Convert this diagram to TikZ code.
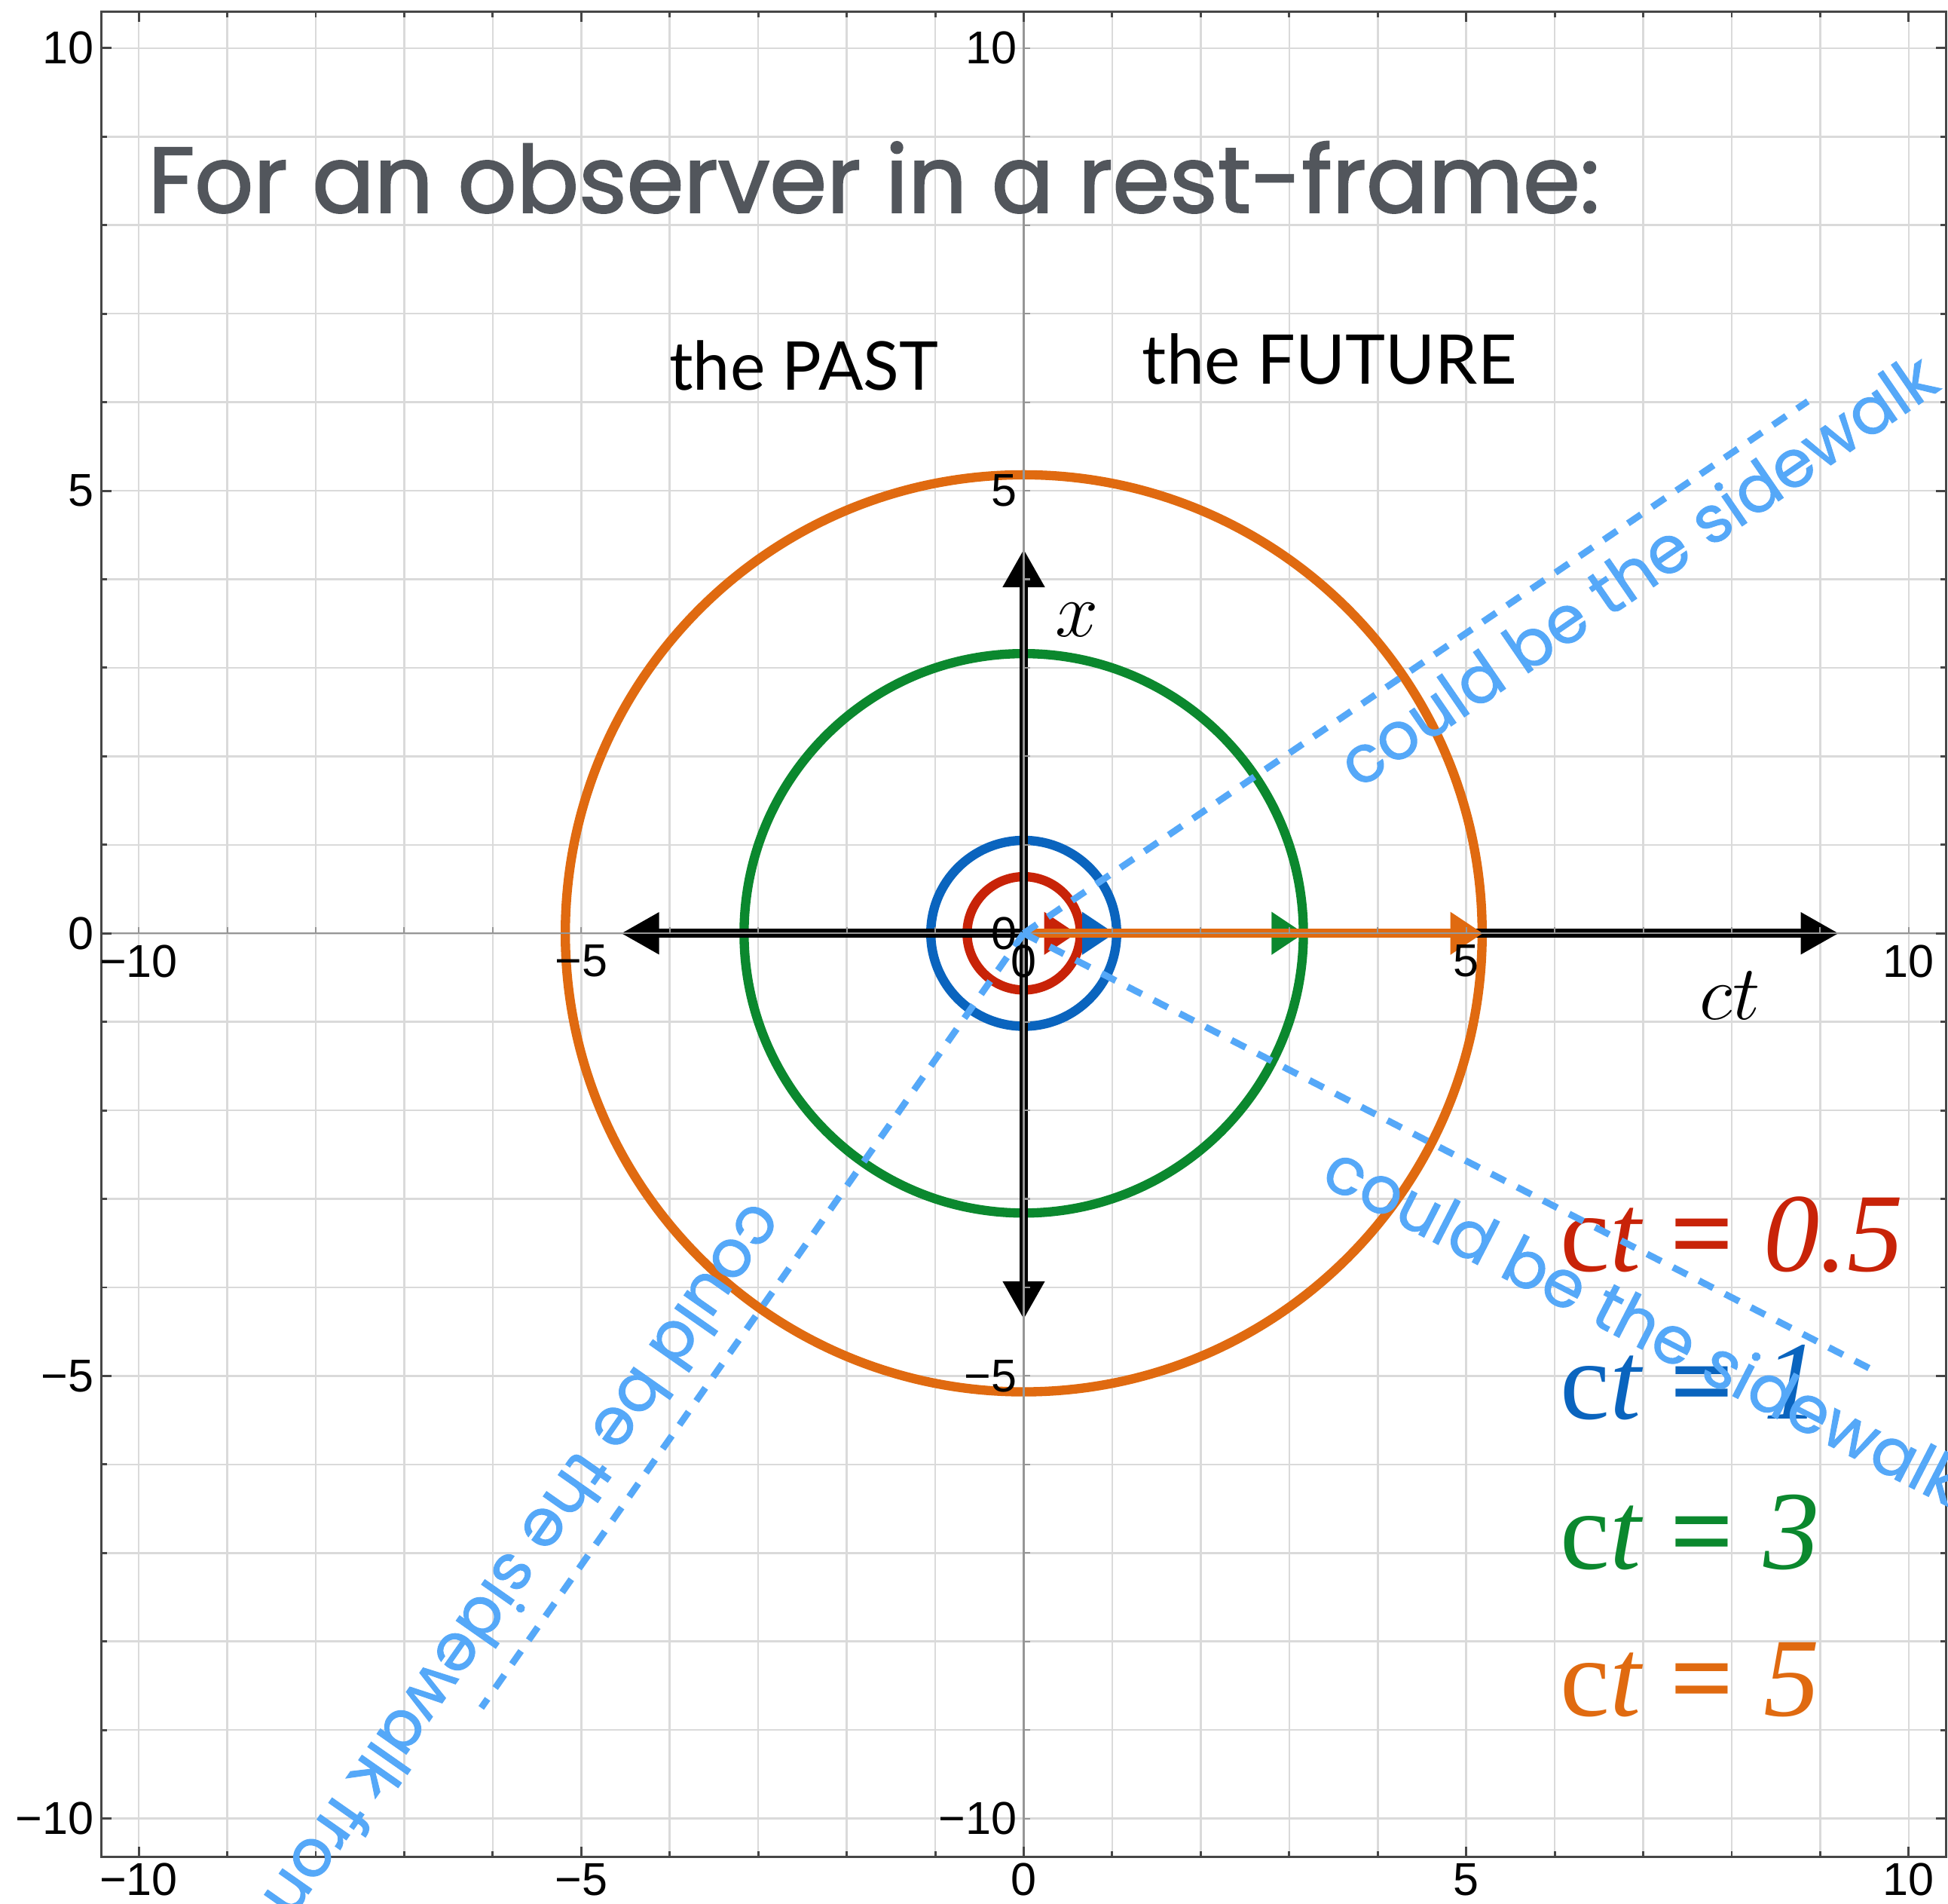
\documentclass[tikz,border=0pt]{standalone}
\usepackage{fontspec}
\usepackage{graphicx}
\usetikzlibrary{arrows.meta}
\newfontfamily\handfont[FakeBold=1.2]{Poppins}
\newfontfamily\titlefont[FakeBold=1.8]{Poppins}
\newfontfamily\gillfont{Lato}
\newfontfamily\tickfont{Liberation Sans}
\newfontfamily\legfont{Liberation Serif}
\definecolor{cred}{RGB}{200,35,8}
\definecolor{cblue}{RGB}{10,100,190}
\definecolor{cgreen}{RGB}{11,136,46}
\definecolor{corange}{RGB}{224,106,16}
\definecolor{cdash}{RGB}{85,168,248}
\definecolor{ctitle}{RGB}{82,86,92}
\definecolor{cgrid}{RGB}{218,218,218}
\definecolor{cframe}{RGB}{70,70,70}
\definecolor{caxis}{RGB}{150,150,150}
\newlength\swlen
\newcommand\legentry[1]{c{\itshape t}\hspace{0.26em}{\bfseries =}\hspace{0.26em}{\itshape #1}}
\begin{document}
\settowidth\swlen{\handfont could be the sidewalk}%
\pgfmathsetmacro\swscale{8.0cm/\swlen}%
\begin{tikzpicture}[x=1cm,y=1cm,
  gridline/.style={cgrid, line width=0.022cm},
  frameline/.style={cframe, line width=0.025cm},
  axisline/.style={caxis, line width=0.018cm},
  ring/.style={line width=0.105cm},
  bigarrow/.style={line width=0.1cm, {Triangle[length=0.43cm,width=0.45cm]}-{Triangle[length=0.43cm,width=0.45cm]}},
  ctarrow/.style={line width=0.1cm, -{Triangle[length=0.37cm,width=0.46cm]}},
  sidewalk/.style={cdash, line width=0.075cm, dash pattern=on 0.18cm off 0.15cm},
  swtext/.style={text=cdash, inner sep=0, anchor=base west},
  ticklab/.style={inner sep=0, font=\tickfont\fontsize{14.8}{16}\selectfont},
  legendtext/.style={inner sep=0, anchor=base west, font=\legfont\fontsize{36}{40}\selectfont},
  mathlab/.style={inner sep=0, font=\fontsize{23}{27}\selectfont},
]
\useasboundingbox (-11.568,-10.965) rectangle (10.444,10.544);
\fill[white] (-11.568,-10.965) rectangle (10.444,10.544);
% grid
\foreach \i in {-10,...,10} {
  \draw[gridline] (\i,-10.43) -- (\i,10.41);
  \draw[gridline] (-10.42,\i) -- (10.42,\i);
}
\coordinate (O) at (0,0);
% circles
\draw[ring,corange] (O) circle[radius=5.18];
\draw[ring,cgreen] (O) circle[radius=3.16];
\draw[ring,cblue] (O) circle[radius=1.05];
\draw[ring,cred] (O) circle[radius=0.64];
% black axes arrows
\coordinate (hl) at (-4.55,0);
\coordinate (hr) at (9.21,0);
\coordinate (vb) at (0,-4.36);
\coordinate (vt) at (0,4.34);
\draw[bigarrow] (hl) -- (hr);
\draw[bigarrow] (vb) -- (vt);
% coloured arrows
\coordinate (tred) at (0.60,0);
\coordinate (tblue) at (1.03,0);
\coordinate (tgreen) at (3.17,0);
\coordinate (torange) at (5.19,0);
\draw[ctarrow,cred] (O) -- (tred);
\draw[ctarrow,cblue] (O) -- (tblue);
\draw[ctarrow,cgreen] (O) -- (tgreen);
\draw[ctarrow,corange] (O) -- (torange);
% plot axes
\draw[axisline] (-10.42,0) -- (10.42,0);
\draw[axisline] (0,-10.43) -- (0,10.41);
\foreach \i in {-10,...,-1,1,2,...,10} {
  \draw[axisline] (\i,0) -- ++(0,0.07);
  \draw[axisline] (0,\i) -- ++(0.07,0);
}
% frame
\draw[frameline] (-10.42,-10.43) rectangle (10.42,10.41);
\foreach \i in {-10,...,10} {
  \draw[frameline] (\i,-10.43) -- ++(0,0.06);
  \draw[frameline] (\i,10.41) -- ++(0,-0.06);
  \draw[frameline] (-10.42,\i) -- ++(0.06,0);
  \draw[frameline] (10.42,\i) -- ++(-0.06,0);
}
\foreach \i in {-10,-5,0,5,10} {
  \draw[frameline] (\i,-10.43) -- ++(0,0.11);
  \draw[frameline] (\i,10.41) -- ++(0,-0.11);
  \draw[frameline] (-10.42,\i) -- ++(0.11,0);
  \draw[frameline] (10.42,\i) -- ++(-0.11,0);
}
% legend
\node[legendtext,text=cred] (l1) at (6.06,-3.82) {\legentry{0.5}};
\node[legendtext,text=cblue] (l2) at (6.06,-5.49) {\legentry{1}};
\node[legendtext,text=cgreen] (l3) at (6.06,-7.18) {\legentry{3}};
\node[legendtext,text=corange] (l4) at (6.06,-8.84) {\legentry{5}};
% axis names
\node[mathlab] (xname) at (0.60,3.54) {$x$};
\node[mathlab] (ctname) at (7.98,-0.70) {$ct$};
% titles
\node[inner sep=0, anchor=base west, text=ctitle] (title) at (-9.90,8.145)
  {\resizebox{16.4cm}{0.80cm}{\titlefont For an observer in a rest-frame:}};
\node[inner sep=0, anchor=base west] (past) at (-4.01,6.14)
  {\resizebox{3.04cm}{0.56cm}{\gillfont the PAST}};
\node[inner sep=0, anchor=base west] (future) at (1.334,6.207)
  {\resizebox{4.23cm}{0.57cm}{\gillfont the FUTURE}};
% sidewalk lines
\coordinate (s1) at (8.86,6.01);
\coordinate (s2) at (9.645,-4.96);
\coordinate (s3) at (-6.13,-8.75);
\draw[sidewalk] (O) -- (s1);
\draw[sidewalk] (O) -- (s2);
\draw[sidewalk] (O) -- (s3);
\node[swtext, rotate=34.5] (sw1) at (3.78,1.62) {\scalebox{\swscale}{\handfont could be the sidewalk}};
\node[swtext, rotate=-27.2] (sw2) at (3.33,-2.82) {\scalebox{\swscale}{\handfont could be the sidewalk}};
\node[swtext, rotate=235] (sw3) at (-3.07,-2.99) {\scalebox{\swscale}{\handfont could be the sidewalk from}};
% frame tick labels
\node[ticklab, anchor=east] (fl1) at (-10.50,10) {10};
\node[ticklab, anchor=east] (fl2) at (-10.50,5) {5};
\node[ticklab, anchor=east] (fl3) at (-10.50,0) {0};
\node[ticklab, anchor=east] (fl4) at (-10.50,-5) {−5};
\node[ticklab, anchor=east] (fl5) at (-10.50,-10) {−10};
\node[ticklab, anchor=north] (fb1) at (-10,-10.50) {−10};
\node[ticklab, anchor=north] (fb2) at (-5,-10.50) {−5};
\node[ticklab, anchor=north] (fb3) at (0,-10.50) {0};
\node[ticklab, anchor=north] (fb4) at (5,-10.50) {5};
\node[ticklab, anchor=north] (fb5) at (10,-10.50) {10};
% axis tick labels
\node[ticklab, anchor=north] (ax1) at (-10,-0.125) {−10};
\node[ticklab, anchor=north] (ax2) at (-5,-0.125) {−5};
\node[ticklab, anchor=north] (ax3) at (0,-0.125) {0};
\node[ticklab, anchor=north] (ax4) at (5,-0.125) {5};
\node[ticklab, anchor=north] (ax5) at (10,-0.125) {10};
\node[ticklab, anchor=east] (ay1) at (-0.07,10) {10};
\node[ticklab, anchor=east] (ay2) at (-0.07,5) {5};
\node[ticklab, anchor=east] (ay3) at (-0.07,0) {0};
\node[ticklab, anchor=east] (ay4) at (-0.07,-5) {−5};
\node[ticklab, anchor=east] (ay5) at (-0.07,-10) {−10};
\end{tikzpicture}
\end{document}
